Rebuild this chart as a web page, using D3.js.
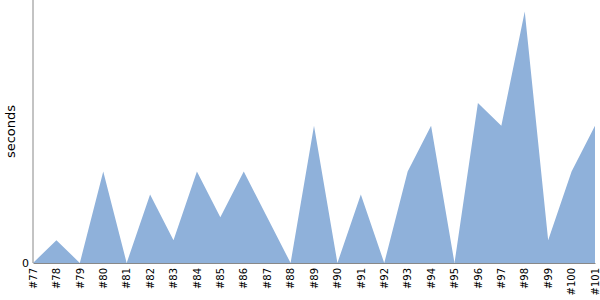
<!DOCTYPE html>
<html><head><meta charset="utf-8">
<script src="https://cdn.jsdelivr.net/npm/d3@7"></script>
<style>body{margin:0;background:#fff}svg{display:block}text{font-family:"DejaVu Sans",sans-serif}</style>
</head><body>
<svg id="c" width="600" height="300"></svg>
<script>
const categories = ["#77","#78","#79","#80","#81","#82","#83","#84","#85","#86","#87","#88","#89","#90","#91","#92","#93","#94","#95","#96","#97","#98","#99","#100","#101"];
const seconds = [0,1,0,4,0,3,1,4,2,4,2,0,6,0,3,0,4,6,0,7,6,11,1,4,6];
const yTicks = [0];

const svg = d3.select("#c");
const m = {left:33, right:5, top:0, bottom:37};
const W = 600, H = 300;
const x = d3.scalePoint().domain(categories).range([m.left, W - m.right]);
const y = d3.scaleLinear().domain([0, 11.5]).range([H - m.bottom, m.top]);

const area = d3.area()
  .x((d,i) => x(categories[i]))
  .y0(y(0))
  .y1(d => y(d));

svg.append("path").datum(seconds).attr("d", area).attr("fill", "#8fb1da");

const gx = svg.append("g").attr("transform", `translate(0,${y(0)})`)
  .call(d3.axisBottom(x).tickSize(0).tickPadding(4));
gx.select(".domain").attr("stroke", "#888");
gx.selectAll("text").attr("font-size", 10).attr("font-family", "DejaVu Sans")
  .attr("transform", "rotate(-90)").attr("text-anchor", "end")
  .attr("x", -5).attr("y", 0).attr("dy", "0.32em").attr("fill", "#000");

const gy = svg.append("g").attr("transform", `translate(${m.left},0)`)
  .call(d3.axisLeft(y).tickValues(yTicks).tickSize(0).tickPadding(4));
gy.select(".domain").attr("stroke", "#888").attr("d", `M0,${y(0)}V0`);
gy.selectAll("text").attr("font-size", 11).attr("font-family", "DejaVu Sans").attr("fill", "#000");

svg.append("text").attr("transform", `translate(15,${(y(0))/2}) rotate(-90)`)
  .attr("text-anchor", "middle").attr("font-size", 13).text("seconds");
</script>
</body></html>
